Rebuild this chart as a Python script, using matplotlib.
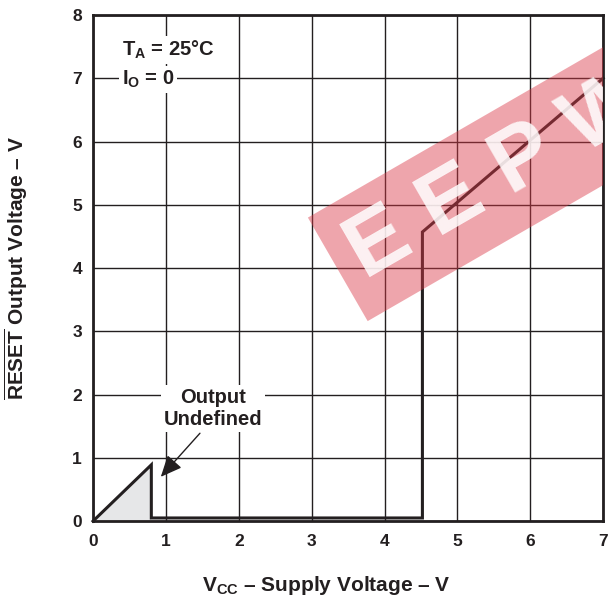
import matplotlib
matplotlib.use("Agg")
import matplotlib.pyplot as plt
from matplotlib.patches import Polygon

plt.rcParams['font.family'] = ['Liberation Sans', 'DejaVu Sans']
plt.rcParams['mathtext.fontset'] = 'custom'
plt.rcParams['mathtext.rm'] = 'Liberation Sans'
plt.rcParams['mathtext.bf'] = 'Liberation Sans:bold'
plt.rcParams['mathtext.it'] = 'Liberation Sans:italic'

# Data
vcc = [0.0, 0.80, 0.80, 4.52, 4.52, 7.0]
reset_v = [0.0, 0.89, 0.05, 0.05, 4.57, 7.0]
undef_x = [0.0, 0.80, 0.80]
undef_y = [0.0, 0.89, 0.0]
xticks = [0, 1, 2, 3, 4, 5, 6, 7]
yticks = [0, 1, 2, 3, 4, 5, 6, 7, 8]

INK = '#231f20'

fig = plt.figure(figsize=(6.08, 5.99), dpi=100)
ax = fig.add_axes([0.153, 0.130, 0.839, 0.845])
ax.set_xlim(0, 7)
ax.set_ylim(0, 8)
ax.set_xticks(xticks)
ax.set_yticks(yticks)
ax.set_xticklabels([str(t) for t in xticks], fontsize=12.5, fontweight='bold', color=INK)
ax.set_yticklabels([str(t) for t in yticks], fontsize=12.5, fontweight='bold', color=INK)
ax.tick_params(axis='x', length=0, pad=9)
ax.tick_params(axis='y', length=0, pad=8)
ax.grid(True, color=INK, linewidth=1.0)
ax.set_axisbelow(True)
for s in ax.spines.values():
    s.set_linewidth(2.0)
    s.set_color(INK)

ax.add_patch(Polygon(list(zip(undef_x, undef_y)), closed=True,
                     facecolor='#e6e7e8', edgecolor='none', zorder=2))
ax.plot(vcc, reset_v, color=INK, linewidth=2.2, zorder=3,
        solid_joinstyle='miter', clip_on=False)

bbox = dict(facecolor='white', edgecolor='none', pad=2)
ax.text(0.4, 7.45, r"T$_{\mathbf{A}}$ = 25°C", fontsize=14.5, fontweight='bold',
        ha='left', va='center', bbox=bbox, zorder=4, color=INK)
ax.text(0.4, 6.98, r"I$_{\mathbf{O}}$ = 0", fontsize=14.5, fontweight='bold',
        ha='left', va='center', bbox=bbox, zorder=4, color=INK)

ax.annotate("Output\nUndefined", xy=(0.93, 0.70), xytext=(1.65, 1.78),
            fontsize=14.5, fontweight='bold', ha='center', va='center',
            bbox=bbox, zorder=4, linespacing=1.25, color=INK,
            arrowprops=dict(arrowstyle='-|>,head_length=0.9,head_width=0.4',
                            color=INK, lw=1.0, shrinkA=1, shrinkB=0,
                            relpos=(0.4, 0.0)))

ax.set_xlabel(r"V$_{\mathbf{CC}}$ – Supply Voltage – V", fontsize=15,
              fontweight='bold', labelpad=17, color=INK)
ax.xaxis.set_label_coords(0.457, -0.105)
ax.set_ylabel(r"$\mathbf{\overline{RESET}}$ Output Voltage – V", fontsize=15,
              fontweight='bold', labelpad=30, color=INK)

# watermark banner (red band with knocked-out letters)
ax.text(3.57, 4.12, "E E P W", fontsize=64, fontweight='bold',
        color=(1, 1, 1, 0.85), rotation=30, rotation_mode='anchor',
        ha='left', va='center', zorder=5, clip_on=True,
        bbox=dict(boxstyle='square,pad=0.2', facecolor=(0.86, 0.22, 0.28, 0.45),
                  edgecolor='none'))

fig.savefig("out.png", dpi=100)
